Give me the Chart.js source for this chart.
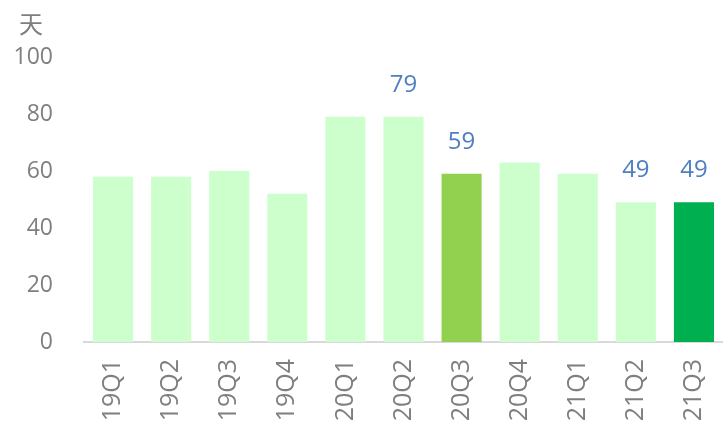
<!DOCTYPE html>
<html>
<head>
<meta charset="utf-8">
<script src="https://cdn.jsdelivr.net/npm/chart.js@4"></script>
<style>
  html, body { margin: 0; padding: 0; background: #fff; }
  #wrap { width: 723px; height: 421px; }
</style>
</head>
<body>
<div id="wrap"><canvas id="chart" width="723" height="421"></canvas></div>
<script>
'use strict';

// data
const quarters = ['19Q1', '19Q2', '19Q3', '19Q4', '20Q1', '20Q2', '20Q3', '20Q4', '21Q1', '21Q2', '21Q3'];
const days = [58, 58, 60, 52, 79, 79, 59, 63, 59, 49, 49];
const barColors = ['#CCFFCC', '#CCFFCC', '#CCFFCC', '#CCFFCC', '#CCFFCC', '#CCFFCC', '#92D050', '#CCFFCC', '#CCFFCC', '#CCFFCC', '#00B050'];
const labelled = [false, false, false, false, false, true, true, false, false, true, true];
const unitLabel = '天';

const fontFamily = '"Open Sans", "Noto Sans CJK SC", sans-serif';

// value labels above some bars
const valueLabels = {
    id: 'valueLabels',
    afterDatasetsDraw(chart) {
        const ctx = chart.ctx;
        const meta = chart.getDatasetMeta(0);
        ctx.save();
        ctx.fillStyle = '#4F7FC0';
        ctx.font = '24px ' + fontFamily;
        ctx.textAlign = 'center';
        ctx.textBaseline = 'middle';
        meta.data.forEach((bar, i) => {
            if (!labelled[i]) return;
            ctx.fillText(String(days[i]), bar.x, bar.y - 32);
        });
        ctx.restore();
    }
};

// unit text top-left
const unitText = {
    id: 'unitText',
    afterDraw(chart) {
        const ctx = chart.ctx;
        ctx.save();
        ctx.fillStyle = '#7F7F7F';
        ctx.font = '24px "Noto Sans CJK SC", sans-serif';
        ctx.textAlign = 'center';
        ctx.textBaseline = 'middle';
        ctx.fillText(unitLabel, 31, 24);
        ctx.restore();
    }
};

const ctx = document.getElementById('chart').getContext('2d');
const chart = new Chart(ctx, {
    type: 'bar',
    data: {
        labels: quarters,
        datasets: [{
            data: days,
            backgroundColor: barColors,
            borderWidth: 0,
            barPercentage: 0.69,
            categoryPercentage: 1.0
        }]
    },
    options: {
        responsive: false,
        animation: false,
        layout: { padding: { top: 57, right: 0, left: 0, bottom: 0 } },
        plugins: {
            legend: { display: false },
            tooltip: { enabled: false }
        },
        scales: {
            x: {
                grid: { display: false, drawTicks: false },
                border: { display: true, color: '#D9D9D9', width: 2 },
                ticks: {
                    color: '#7F7F7F',
                    font: { size: 25, family: fontFamily },
                    maxRotation: 90,
                    minRotation: 90,
                    padding: 17
                },
                afterFit(scale) {
                    scale.height = 79;
                    scale.paddingLeft = 0;
                    scale.paddingRight = 0;
                }
            },
            y: {
                min: 0,
                max: 100,
                grid: { display: false, drawTicks: false },
                border: { display: false },
                ticks: {
                    stepSize: 20,
                    color: '#7F7F7F',
                    font: { size: 23, family: fontFamily },
                    padding: 31
                },
                afterFit(scale) { scale.width = 84; }
            }
        }
    },
    plugins: [valueLabels, unitText]
});
</script>
</body>
</html>
